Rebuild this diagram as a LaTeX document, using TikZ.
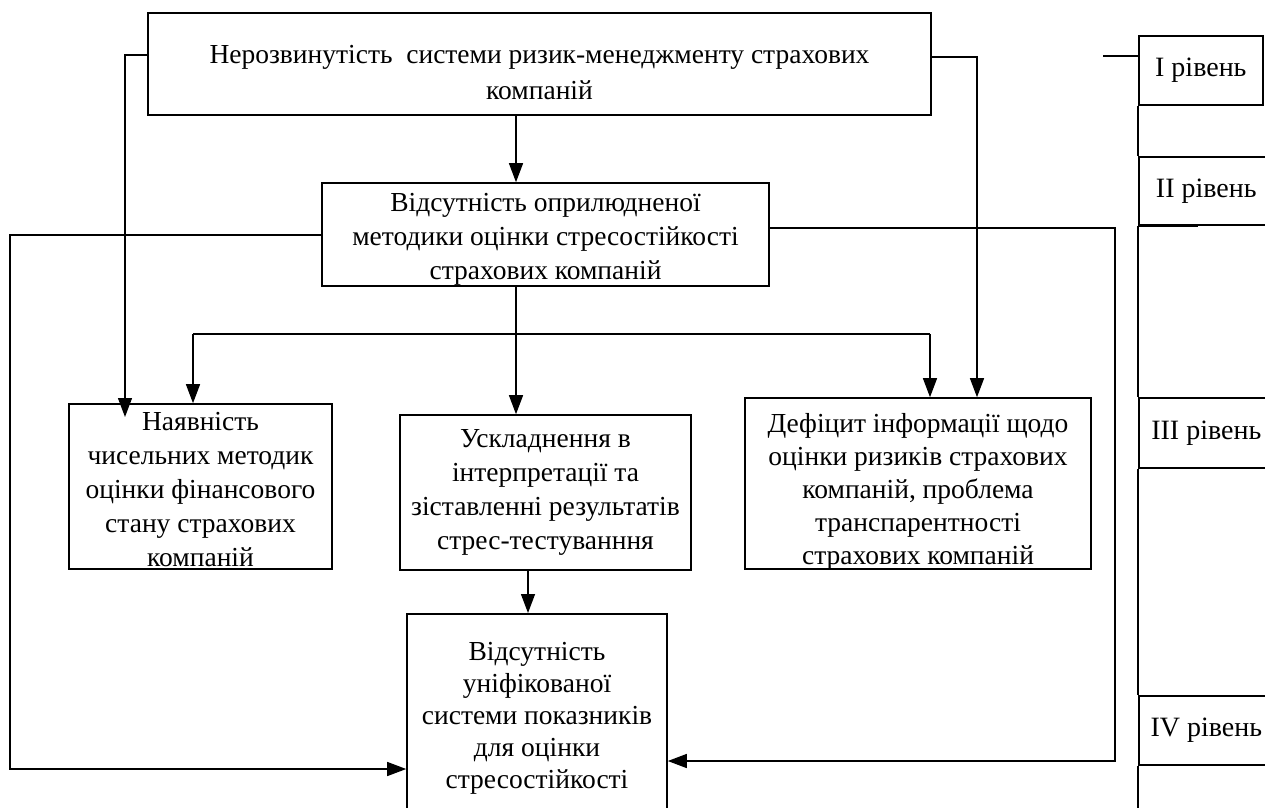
\documentclass[tikz,border=0pt]{standalone}
\usepackage{fontspec}
\setmainfont{Liberation Serif}
\usetikzlibrary{arrows.meta,calc}
\begin{document}
\begin{tikzpicture}[x=1pt,y=-1pt,
  box/.style={draw,line width=1.6pt,inner sep=0pt},
  txt/.style={align=center,inner sep=0pt,font=\fontsize{27.5}{34}\selectfont},
  lvl/.style={draw,line width=1.6pt,inner sep=0pt,font=\fontsize{28}{30}\selectfont},
  conn/.style={line width=1.3pt},
  arr/.style={conn,-{Triangle[length=19pt,width=14pt]}}]
\useasboundingbox (0,0) rectangle (1265,807);
\clip (0,0) rectangle (1265,807);
\fill[white] (0,0) rectangle (1265,807);

\node[box,minimum width=783,minimum height=102,
  label={[txt,font=\fontsize{27.5}{36}\selectfont,yshift=-9pt]center:{Нерозвинутість\ \ системи ризик-менеджменту страхових\\компаній}}] (top) at (539.5,64) {};
\node[box,minimum width=447,minimum height=103,
  label={[txt,yshift=-5pt]center:{Відсутність оприлюдненої\\методики оцінки стресостійкості\\страхових компаній}}] (b2) at (545.5,234.5) {};
\node[box,minimum width=263,minimum height=165,
  label={[txt,yshift=-3pt]center:{Наявність\\чисельних методик\\оцінки фінансового\\стану страхових\\компаній}}] (nay) at (200.5,486.5) {};
\node[box,minimum width=291,minimum height=155,
  label={[txt]center:{Ускладнення в\\інтерпретації та\\зіставленні результатів\\стрес-тестуванння}}] (usk) at (545.5,492.5) {};
\node[box,minimum width=346,minimum height=171,
  label={[txt,font=\fontsize{27.5}{33}\selectfont,yshift=-8pt]center:{Дефіцит інформації щодо\\оцінки ризиків страхових\\компаній, проблема\\транспарентності\\страхових компаній}}] (def) at (918,483.5) {};
\node[box,minimum width=260,minimum height=210,anchor=north,
  label={[txt,font=\fontsize{27.5}{32}\selectfont]center:{Відсутність\\уніфікованої\\системи показників\\для оцінки\\стресостійкості}}] (b5) at (537,613) {};

\node[lvl,minimum width=124,minimum height=69,anchor=west] (l1) at (1138,70.5) {I рівень};
\node[lvl,minimum width=135,minimum height=68,anchor=west] (l2) at (1138,191) {II рівень};
\node[lvl,minimum width=135,minimum height=70,anchor=west] (l3) at (1138,433) {III рівень};
\node[lvl,minimum width=135,minimum height=69,anchor=west] (l4) at (1138,730.5) {IV рівень};

% level column
\coordinate (bot) at (0,815);
\draw[line width=1.6pt] (l1.south west) -- (l2.north west);
\draw[line width=1.6pt] (l2.south west) -- (l3.north west);
\draw[line width=1.6pt] (l3.south west) -- (l4.north west);
\draw[line width=1.6pt] (l4.south west) -- (l4.south west |- bot);
\coordinate (h1) at (1103,56);
\draw[conn] (h1) -- (h1 -| l1.west);
\coordinate (h2) at (1198,226);
\draw[line width=2.6pt] (l2.south west) -- (h2 |- l2.south west);

% connectors
\coordinate (xA) at (516,0);
\coordinate (xB) at (528,0);
\draw[arr] (top.south -| xA) -- (b2.north -| xA);
\coordinate (L1) at (125,55);
\coordinate (nayTip) at (125,417);
\draw[arr] (top.west |- L1) -- (L1) -- (nayTip);
\coordinate (R1) at (977,57);
\draw[arr] (top.east |- R1) -- (R1) -- (R1 |- def.north);
\coordinate (L2) at (10,235);
\coordinate (L2b) at (10,769);
\draw[arr] (b2.west |- L2) -- (L2) -- (L2b) -- (L2b -| b5.west);
\coordinate (R2) at (1115,228);
\coordinate (R2b) at (1115,761);
\draw[arr] (b2.east |- R2) -- (R2) -- (R2b) -- (R2b -| b5.east);
\draw[arr] (b2.south -| xA) -- (usk.north -| xA);
\coordinate (JL) at (193,334);
\coordinate (JR) at (930,334);
\draw[conn] (JL) -- (JR);
\draw[arr] (JL) -- (JL |- nay.north);
\draw[arr] (JR) -- (JR |- def.north);
\draw[arr] (usk.south -| xB) -- (b5.north -| xB);
\end{tikzpicture}
\end{document}
